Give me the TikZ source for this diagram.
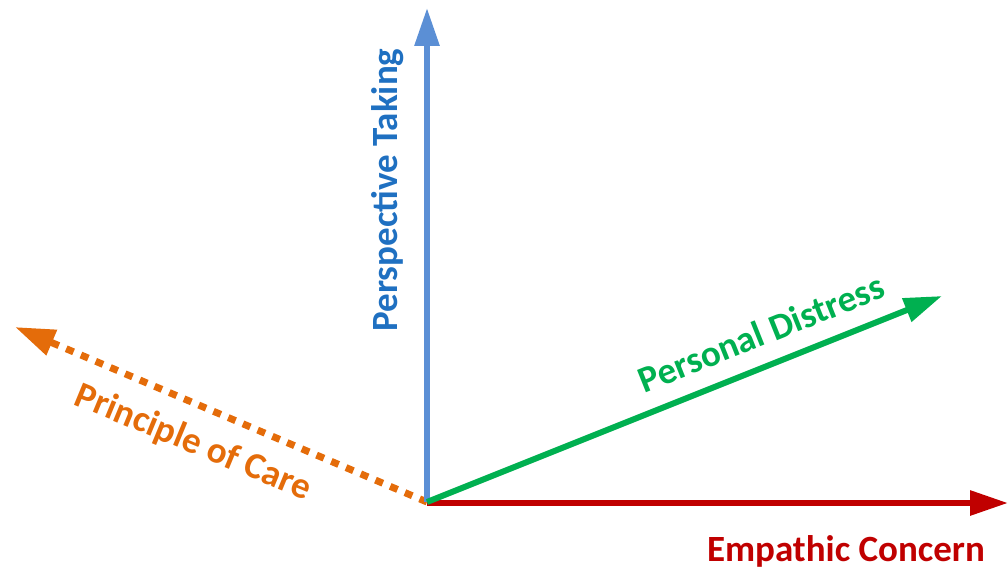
\documentclass[tikz,border=0pt]{standalone}
\usepackage{fontspec}
\setmainfont{Carlito}
\usetikzlibrary{arrows.meta}
\definecolor{ptblue}{HTML}{5B8FD5}
\definecolor{pttext}{HTML}{1F70C1}
\definecolor{ecred}{HTML}{C00000}
\definecolor{pdgreen}{HTML}{00B050}
\definecolor{pcorange}{HTML}{E46C0A}
\tikzset{
  axis/.style={line width=6pt, -{Triangle[length=38pt,width=24pt]}},
  lbl/.style={font=\fontsize{37}{44}\selectfont\bfseries, inner sep=0pt}
}
\begin{document}
\begin{tikzpicture}[x=1pt,y=-1pt]
\useasboundingbox (0,0) rectangle (1008,569);
\coordinate (O) at (427,502);
\coordinate (ptip) at (427,8);
\coordinate (etip) at (1008,503);
\coordinate (dtip) at (942,296);
\coordinate (ctip) at (15,327);
\draw[axis, ecred] (427,503) -- (etip);
\draw[pcorange, line width=7pt, dash pattern=on 8pt off 8pt, -{Triangle[length=40pt,width=26pt]}] (O) -- (ctip);
\draw[axis, ptblue] (O) -- (ptip);
\draw[axis, pdgreen] (O) -- (dtip);
\node[lbl, pttext, rotate=90] (pt) at (388,190) {Perspective Taking};
\node[lbl, pdgreen, rotate=21.8] (pd) at (761,333) {Personal Distress};
\node[lbl, pcorange, rotate=-22.5] (pc) at (193,443) {Principle of Care};
\node[lbl, ecred] (ec) at (846,551) {Empathic Concern};
\end{tikzpicture}
\end{document}
